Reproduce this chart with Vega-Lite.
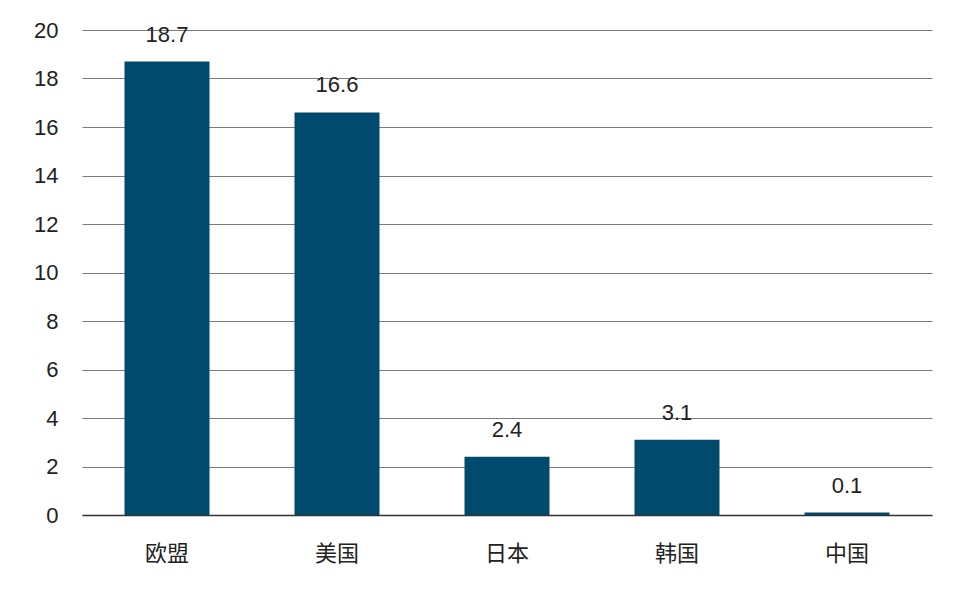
{
  "$schema": "https://vega.github.io/schema/vega-lite/v6.json",
  "autosize": "none",
  "width": 850,
  "height": 485,
  "padding": {"left": 82, "top": 30, "right": 34, "bottom": 91},
  "background": "#ffffff",
  "data": {"values": [
    {"region": "欧盟", "value": 18.7},
    {"region": "美国", "value": 16.6},
    {"region": "日本", "value": 2.4},
    {"region": "韩国", "value": 3.1},
    {"region": "中国", "value": 0.1}
  ]},
  "encoding": {
    "x": {"field": "region", "type": "nominal", "sort": null,
      "scale": {"paddingInner": 0.5, "paddingOuter": 0.25},
      "axis": {"title": null, "labelAngle": 0, "ticks": false, "domain": true, "domainColor": "#333333", "domainWidth": 1.5,
        "labelFont": "Noto Sans CJK SC", "labelFontSize": 22, "labelColor": "#222222", "labelPadding": 28, "grid": false, "zindex": 1}},
    "y": {"field": "value", "type": "quantitative",
      "scale": {"domain": [0, 20], "nice": false},
      "axis": {"title": null, "values": [0,2,4,6,8,10,12,14,16,18,20], "ticks": false, "domain": false,
        "labelFont": "Liberation Sans", "labelFontSize": 22, "labelColor": "#222222", "labelPadding": 24,
        "gridColor": "#7a7a7a", "gridWidth": 1}}
  },
  "layer": [
    {"mark": {"type": "bar", "color": "#004a6e"}},
    {"mark": {"type": "text", "baseline": "bottom", "dy": -15, "font": "Liberation Sans", "fontSize": 22, "color": "#222222"},
     "encoding": {"text": {"field": "value", "type": "quantitative", "format": ".1f"}}}
  ],
  "config": {"view": {"stroke": null}}
}
